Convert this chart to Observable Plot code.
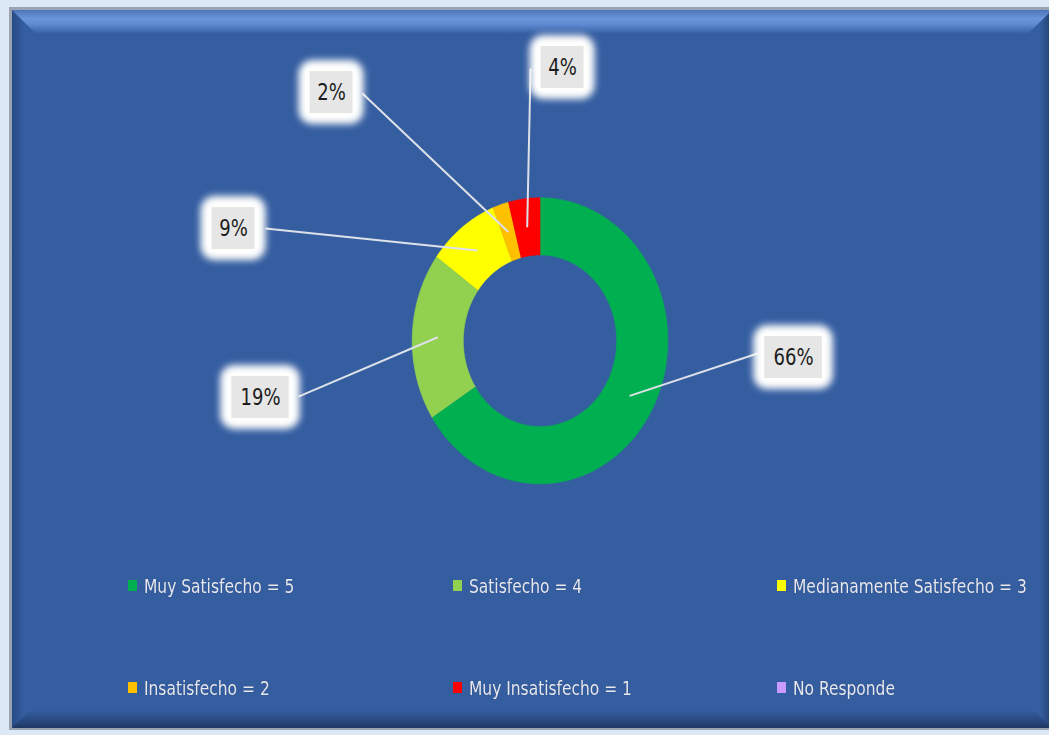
<!DOCTYPE html>
<html>
<head>
<meta charset="utf-8">
<script src="https://cdn.jsdelivr.net/npm/d3@7"></script>
<script src="https://cdn.jsdelivr.net/npm/@observablehq/plot@0.6"></script>
<style>
  html, body { margin: 0; padding: 0; background: #dde8f7; }
  #wrap { position: relative; width: 1049px; height: 735px; overflow: hidden; background: #dde8f7; }
  #frame { position: absolute; left: 9px; top: 7px; width: 1050px; height: 723px; background: #9aa3b1; }
  #panel { position: absolute; left: 12px; top: 10px; width: 1040px; height: 718px; background: #355ea1; overflow: hidden; }
  .bev { position: absolute; }
  #bevL { left: 0; top: 0; width: 12px; height: 100%; background: linear-gradient(to right, #284a84, #355ea1); }
  #bevR { right: 0; top: 0; width: 12px; height: 100%; background: linear-gradient(to right, #355ea1, #22406f); }
  #bevT { left: 0; top: 0; width: 100%; height: 24px;
          clip-path: polygon(0 0, 100% 0, calc(100% - 24px) 100%, 24px 100%);
          background: linear-gradient(to bottom, #4d74b8 0%, #6a95db 35%, #5f8ad2 60%, #355ea1 100%); }
  #bevB { left: 0; bottom: 0; width: 100%; height: 18px;
          clip-path: polygon(18px 0, calc(100% - 18px) 0, 100% 100%, 0 100%);
          background: linear-gradient(to bottom, #355ea1 0%, #2a4c85 50%, #1f3862 100%); }
  #chart { position: absolute; left: 0; top: 0; }
  #legend { position: absolute; left: 128px; top: 574px; display: grid;
            grid-template-columns: 325px 324px 300px; grid-auto-rows: 102px; }
  .item { display: flex; align-items: flex-start; height: 24px; color: #e6e9f1;
          font-family: "Liberation Sans Narrow", "DejaVu Sans Condensed", sans-serif; font-size: 20px;
          text-shadow: 0 0 1px rgba(20,30,60,0.6); white-space: nowrap; }
  .item span { display: inline-block; transform: scaleX(0.86); transform-origin: 0 50%; }
  .sw { width: 9px; height: 11px; margin-top: 6px; margin-right: 7px; flex: none; }
</style>
</head>
<body>
<div id="wrap">
  <div id="frame"></div>
  <div id="panel">
    <div class="bev" id="bevL"></div>
    <div class="bev" id="bevR"></div>
    <div class="bev" id="bevT"></div>
    <div class="bev" id="bevB"></div>
  </div>
  <div id="chart"></div>
  <div id="legend"></div>
</div>
<script>
// ---- data ----
const categories = ["Muy Satisfecho = 5", "Satisfecho = 4", "Medianamente Satisfecho = 3", "Insatisfecho = 2", "Muy Insatisfecho = 1", "No Responde"];
const percents = [66, 19, 9, 2, 4, 0];
const colors = ["#00b050", "#92d050", "#ffff00", "#ffc000", "#ff0000", "#cc99ff"];

// ---- layout (label placement, in radius units of the donut) ----
const labelCenter = [[1.984, -0.117], [-2.187, -0.396], [-2.398, 0.785], [-1.631, 1.736], [0.176, 1.911]];
const leaderStart = [[1.702, -0.089], [-1.890, -0.390], [-2.148, 0.785], [-1.389, 1.729], [-0.074, 1.904]];
const innerR = 0.6, leaderR = 0.8;
const xRange = [411.7, 667.3], yRange = [483.3, 197.3];
const pxX = (xRange[1] - xRange[0]) / 2, pxY = (yRange[0] - yRange[1]) / 2;

// ---- build slices ----
const total = d3.sum(percents);
const slices = [];
let acc = 0;
categories.forEach((name, i) => {
  const a0 = acc / total * 2 * Math.PI;
  acc += percents[i];
  const a1 = acc / total * 2 * Math.PI;
  slices.push({name, value: percents[i], a0, a1, i});
});
const shown = slices.filter(s => s.value > 0);

const arcPts = [];
for (const s of shown) {
  const n = Math.max(4, Math.ceil((s.a1 - s.a0) / (Math.PI / 180)));
  for (let k = 0; k <= n; k++) {
    const a = s.a0 + (s.a1 - s.a0) * k / n;
    arcPts.push({name: s.name, x: Math.sin(a), y: Math.cos(a)});
  }
  for (let k = n; k >= 0; k--) {
    const a = s.a0 + (s.a1 - s.a0) * k / n;
    arcPts.push({name: s.name, x: innerR * Math.sin(a), y: innerR * Math.cos(a)});
  }
}

const labels = shown.map((s, j) => {
  const mid = (s.a0 + s.a1) / 2;
  const text = s.value + "%";
  const w = 14 + 14.5 * text.length, h = 42;
  return {
    text, cx: labelCenter[j][0], cy: labelCenter[j][1],
    hw: w / 2 / pxX, hh: h / 2 / pxY,
    gw: (w / 2 + 11) / pxX, gh: (h / 2 + 11) / pxY,
    sx: leaderStart[j][0], sy: leaderStart[j][1],
    ex: leaderR * Math.sin(mid), ey: leaderR * Math.cos(mid)
  };
});

const chart = Plot.plot({
  width: 1049, height: 735,
  margin: 0,
  style: {background: "transparent", overflow: "visible"},
  x: {domain: [-1, 1], range: xRange, axis: null},
  y: {domain: [-1, 1], range: yRange, axis: null},
  color: {domain: categories, range: colors},
  marks: [
    Plot.line(arcPts, {x: "x", y: "y", z: "name", fill: "name", stroke: "name", strokeWidth: 0.6}),
    Plot.link(labels, {x1: "sx", y1: "sy", x2: "ex", y2: "ey", stroke: "#dde1e8", strokeWidth: 2}),
    Plot.rect(labels, {x1: d => d.cx - d.gw, x2: d => d.cx + d.gw, y1: d => d.cy - d.gh, y2: d => d.cy + d.gh,
                       fill: "#fffffe", rx: 14, ariaLabel: "glow"}),
    Plot.rect(labels, {x1: d => d.cx - d.hw, x2: d => d.cx + d.hw, y1: d => d.cy - d.hh, y2: d => d.cy + d.hh,
                       fill: "#e6e6e6"}),
    Plot.text(labels, {x: "cx", y: "cy", text: "text", fill: "#1c1c1c", fontSize: 23, ariaLabel: "pct",
                       fontFamily: "'Liberation Sans Narrow', 'DejaVu Sans Condensed', sans-serif"})
  ]
});

// soft white glow behind label boxes: blur the glow rectangles
const svg = d3.select(chart);
svg.selectAll("g").each(function() {
  const f = (this.getAttribute("fill") || "").toLowerCase();
  const al = this.getAttribute("aria-label") || "";
  if (f === "#fffffe" || al === "glow") {
    d3.select(this).selectAll("rect").style("filter", "blur(3.5px)");
  }
});
// narrow the percentage glyphs like the original's condensed face
svg.selectAll("text").each(function() {
  if (/%$/.test(this.textContent)) {
    const t = this.getAttribute("transform") || "";
    this.setAttribute("transform", t + " scale(0.87,1)");
  }
});

document.getElementById("chart").appendChild(chart);

// legend
const legend = d3.select("#legend");
categories.forEach((c, i) => {
  const it = legend.append("div").attr("class", "item");
  it.append("div").attr("class", "sw").style("background", colors[i]);
  it.append("span").text(c);
});
</script>
</body>
</html>
